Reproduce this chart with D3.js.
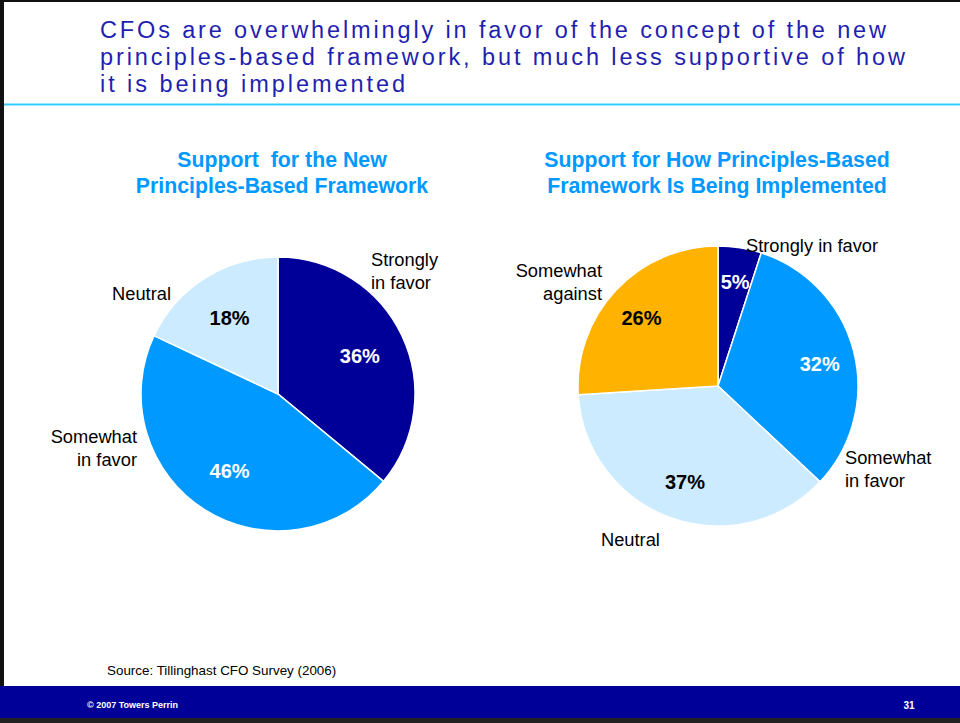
<!DOCTYPE html>
<html>
<head>
<meta charset="utf-8">
<script src="https://cdnjs.cloudflare.com/ajax/libs/d3/7.8.5/d3.min.js"></script>
<style>
    html, body { margin: 0; padding: 0; background: #fff; }
    svg { display: block; }
</style>
</head>
<body>
<svg id="chart" width="960" height="723"></svg>
<script>
// Chart data
const titleLines = [
    "CFOs are overwhelmingly in favor of the concept of the new",
    "principles-based framework, but much less supportive of how",
    "it is being implemented"
];

const leftTitle = ["Support  for the New", "Principles-Based Framework"];
const leftLabels = ["Strongly in favor", "Somewhat in favor", "Neutral"];
const leftValues = [36, 46, 18];

const rightTitle = ["Support for How Principles-Based", "Framework Is Being Implemented"];
const rightLabels = ["Strongly in favor", "Somewhat in favor", "Neutral", "Somewhat against"];
const rightValues = [5, 32, 37, 26];

const sourceNote = "Source: Tillinghast CFO Survey (2006)";
const footerLeft = "\u00A9 2007 Towers Perrin";
const footerRight = "31";

const colors = {
    "Strongly in favor": "#000099",
    "Somewhat in favor": "#0099FF",
    "Neutral": "#CCEBFF",
    "Somewhat against": "#FFB300"
};
const pctColor = {
    "Strongly in favor": "#fff",
    "Somewhat in favor": "#fff",
    "Neutral": "#000",
    "Somewhat against": "#000"
};

const svg = d3.select("#chart");
const W = 960, H = 723;

// Frame
svg.append("rect").attr("x", 0).attr("y", 0).attr("width", W).attr("height", H).attr("fill", "#fff");
svg.append("rect").attr("x", 0).attr("y", 0).attr("width", W).attr("height", 2).attr("fill", "#111");
svg.append("rect").attr("x", 0).attr("y", 0).attr("width", 4).attr("height", H).attr("fill", "#111");
svg.append("line")
    .attr("x1", 4).attr("x2", W).attr("y1", 104.5).attr("y2", 104.5)
    .attr("stroke", "#33CCFF").attr("stroke-width", 2);

// Title (letter-spaced, as in the slide)
const titleWidths = [786, 805, 305];
svg.append("g").selectAll("text")
    .data(titleLines)
    .join("text")
    .attr("x", 100)
    .attr("y", (d, i) => 38 + i * 27)
    .attr("font-family", "'Liberation Sans', Arial, sans-serif")
    .attr("font-size", 23.5)
    .attr("fill", "#1F1FB0")
    .attr("textLength", (d, i) => titleWidths[i])
    .attr("lengthAdjust", "spacing")
    .text(d => d);

function drawPie(opts) {
    const { cx, cy, r, labels, values, title, labelR, catLabels } = opts;
    const g = svg.append("g").attr("transform", `translate(${cx},${cy})`);

    svg.append("g").selectAll("text")
        .data(title)
        .join("text")
        .attr("x", opts.titleX)
        .attr("y", (d, i) => 167 + i * 26)
        .attr("text-anchor", "middle")
        .attr("font-family", "'Liberation Sans', Arial, sans-serif")
        .attr("font-weight", "bold")
        .attr("font-size", 21.3)
        .attr("fill", "#0099FF")
        .style("white-space", "pre")
        .text(d => d);

    const data = labels.map((l, i) => ({ label: l, value: values[i] }));
    const pie = d3.pie().sort(null).value(d => d.value);
    const arcs = pie(data);
    const arc = d3.arc().innerRadius(0).outerRadius(r);
    const labelArc = d3.arc().innerRadius(labelR * r).outerRadius(labelR * r);

    g.selectAll("path.slice")
        .data(arcs)
        .join("path")
        .attr("class", "slice")
        .attr("d", arc)
        .attr("fill", d => colors[d.data.label])
        .attr("stroke", "#fff")
        .attr("stroke-width", 1.5);

    g.selectAll("text.pct")
        .data(arcs)
        .join("text")
        .attr("class", "pct")
        .attr("transform", d => {
            const c = labelArc.centroid(d);
            const k = (opts.pctScale && opts.pctScale[d.data.label]) || 1;
            return `translate(${c[0] * k},${c[1] * k})`;
        })
        .attr("text-anchor", "middle")
        .attr("dy", opts.pctDy || "0.36em")
        .attr("font-family", "'Liberation Sans', Arial, sans-serif")
        .attr("font-weight", "bold")
        .attr("font-size", 20)
        .attr("fill", d => pctColor[d.data.label])
        .text(d => d3.format(".0f")(d.value) + "%");

    // Category labels
    catLabels.forEach(cl => {
        const t = g.append("text")
            .attr("text-anchor", cl.anchor)
            .attr("font-family", "'Liberation Sans', Arial, sans-serif")
            .attr("font-size", 18.3)
            .attr("fill", "#000");
        cl.lines.forEach((line, i) => {
            t.append("tspan")
                .attr("x", cl.dx)
                .attr("y", cl.dy + i * 23)
                .text(line);
        });
    });
}

drawPie({
    cx: 278, cy: 394, r: 137, titleX: 282,
    labels: leftLabels, values: leftValues, title: leftTitle, labelR: 0.66,
    catLabels: [
        { lines: ["Strongly", "in favor"], anchor: "start", dx: 93, dy: -128 },
        { lines: ["Somewhat", "in favor"], anchor: "end", dx: -141, dy: 49 },
        { lines: ["Neutral"], anchor: "end", dx: -107, dy: -94 }
    ]
});

drawPie({
    cx: 718, cy: 386, r: 140, titleX: 717,
    labels: rightLabels, values: rightValues, title: rightTitle, labelR: 0.75,
    pctDy: "0.55em",
    pctScale: { "Strongly in favor": 1.04, "Neutral": 0.93 },
    catLabels: [
        { lines: ["Strongly in favor"], anchor: "start", dx: 28, dy: -134 },
        { lines: ["Somewhat", "in favor"], anchor: "start", dx: 127, dy: 78 },
        { lines: ["Neutral"], anchor: "start", dx: -117, dy: 160 },
        { lines: ["Somewhat", "against"], anchor: "end", dx: -116, dy: -109 }
    ]
});

// Source
svg.append("text")
    .attr("x", 107).attr("y", 675)
    .attr("font-family", "'Liberation Sans', Arial, sans-serif")
    .attr("font-size", 13.4)
    .attr("fill", "#000")
    .text(sourceNote);

// Footer band
svg.append("rect").attr("x", 0).attr("y", 686).attr("width", W).attr("height", 32).attr("fill", "#000099");
svg.append("rect").attr("x", 0).attr("y", 718).attr("width", W).attr("height", 5).attr("fill", "#222");
svg.append("text")
    .attr("x", 87).attr("y", 708)
    .attr("font-family", "'Liberation Sans', Arial, sans-serif")
    .attr("font-weight", "bold")
    .attr("font-size", 9)
    .attr("fill", "#fff")
    .text(footerLeft);
svg.append("text")
    .attr("x", 909).attr("y", 709)
    .attr("text-anchor", "middle")
    .attr("font-family", "'Liberation Sans', Arial, sans-serif")
    .attr("font-weight", "bold")
    .attr("font-size", 10)
    .attr("fill", "#fff")
    .text(footerRight);
</script>
</body>
</html>
